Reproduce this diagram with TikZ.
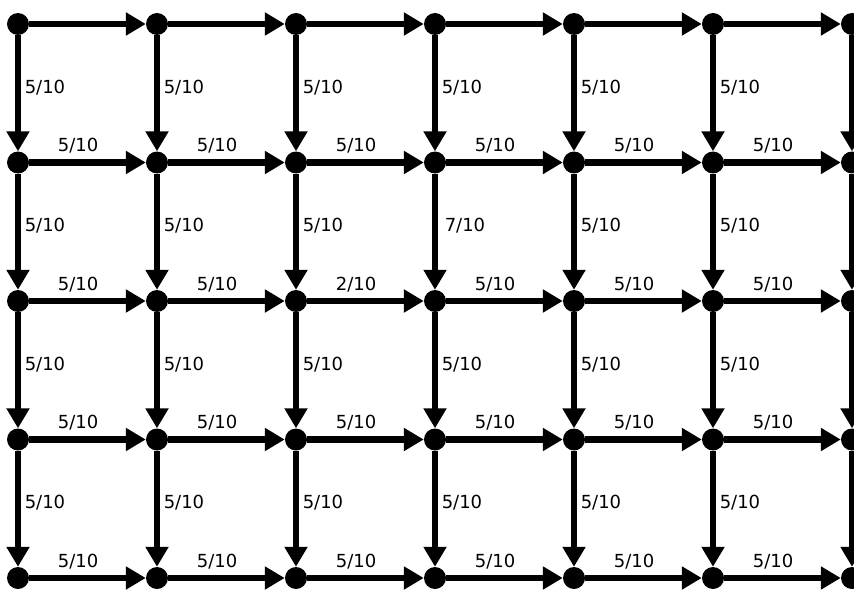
\documentclass[tikz,border=0pt]{standalone}
\usepackage{fontspec}
\setmainfont{DejaVu Sans}
\usetikzlibrary{arrows.meta}

\begin{document}
\begin{tikzpicture}[x=1pt,y=-1pt,>={Triangle[length=20pt,width=22pt]},
  dot/.style={circle,fill,inner sep=0pt,minimum size=22pt},
  flow/.style={->,line width=6.5pt},
  hlbl/.style={pos=.42,above=5pt,inner sep=1pt,font=\fontsize{18}{20}\selectfont},
  vlbl/.style={pos=.45,inner sep=1pt,font=\fontsize{18}{20}\selectfont}]
\useasboundingbox (0,0) rectangle (854,591);
% vertices of the grid
\foreach \i in {0,...,6} \foreach \j in {0,...,4}
  \node[dot] (v-\i-\j) at (18+139*\i,24+138.5*\j) {};
% top row, no labels
\foreach \i [count=\k] in {0,...,5}
  \draw[flow] (v-\i-0) -- (v-\k-0);
% other rows
\foreach \i [count=\k] in {0,...,5} \foreach \j in {1,...,4} {
  \def\val{5/10}
  \ifnum\i\j=22 \def\val{2/10}\fi
  \draw[flow] (v-\i-\j) -- node[hlbl] {\val} (v-\k-\j);
}
% columns
\foreach \i in {0,...,5} \foreach \j [count=\k] in {0,...,3} {
  \def\val{5/10}\def\gap{2.5pt}
  \ifnum\i\j=31 \def\val{7/10}\def\gap{5.5pt}\fi
  \draw[flow] (v-\i-\j) -- node[vlbl,right=\gap] {\val} (v-\i-\k);
}
\foreach \j [count=\k] in {0,...,3}
  \draw[flow] (v-6-\j) -- (v-6-\k);
\end{tikzpicture}
\end{document}
